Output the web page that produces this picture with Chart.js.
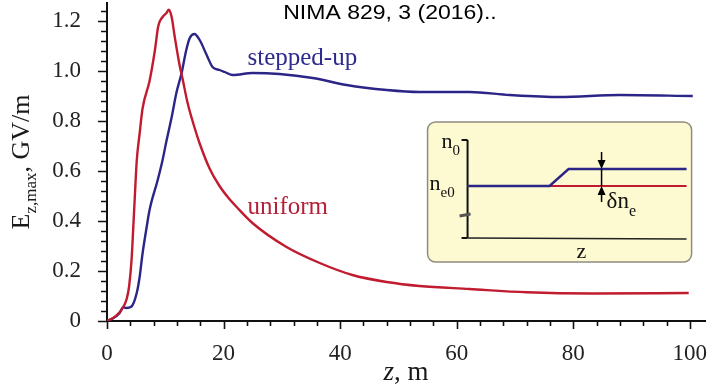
<!DOCTYPE html>
<html>
<head>
<meta charset="utf-8">
<script src="https://cdn.jsdelivr.net/npm/chart.js@4.4.1/dist/chart.umd.min.js"></script>
<style>
  html, body { margin: 0; padding: 0; background: #fff; }
  #wrap { width: 708px; height: 390px; }
</style>
</head>
<body>
<div id="wrap"><canvas id="c" width="708" height="390"></canvas></div>
<script>
// Peak field along the plasma for a uniform and a stepped-up density profile
const zUniform = [0, 1.0, 1.7, 2.7, 3.4, 3.8, 4.2, 4.5, 4.8, 5.1, 5.6, 6.1, 7.3, 8.2, 8.8, 9.5, 10.2, 10.6,
  11.1, 11.6, 12.4, 13.0, 13.8, 15.0, 15.9, 17.6, 19.3, 21.0, 22.2, 25.0, 30.8, 36.5, 42.1, 48.0, 53.6,
  62.2, 72.0, 83.3, 99.8];
const eUniform = [0, 0.012, 0.024, 0.052, 0.09, 0.14, 0.24, 0.37, 0.51, 0.64, 0.75, 0.85, 0.96, 1.08, 1.18,
  1.215, 1.232, 1.245, 1.215, 1.14, 1.03, 0.965, 0.875, 0.775, 0.71, 0.61, 0.54, 0.488, 0.457, 0.391,
  0.296, 0.232, 0.184, 0.156, 0.14, 0.128, 0.115, 0.11, 0.112];

const zStepped = [0, 1.0, 2.1, 2.8, 3.3, 4.2, 5.1, 5.6, 6.1, 6.8, 7.3, 8.7, 9.5, 10.2, 11.1, 11.9, 12.8,
  13.6, 14.2, 15.0, 15.9, 17.1, 18.1, 19.3, 20.2, 21.6, 25.0, 29.6, 35.3, 41.1, 48.0, 53.6, 62.2, 69.1,
  77.7, 88.0, 100.5];
const eStepped = [0, 0.01, 0.03, 0.055, 0.052, 0.058, 0.112, 0.176, 0.27, 0.375, 0.444, 0.564, 0.64, 0.72,
  0.816, 0.912, 0.992, 1.084, 1.132, 1.148, 1.124, 1.064, 1.016, 1.004, 0.996, 0.984, 0.992, 0.988, 0.972,
  0.944, 0.924, 0.916, 0.916, 0.904, 0.896, 0.904, 0.90];

const xTickStep = 20, xMinorStep = 4;
const yTickStep = 0.2, yMinorStep = 0.04;

// Corners of the density-profile sketch, in axis units
const sketchBox = { zLeft: 55.0, zRight: 100.3, eBottom: 0.236, eTop: 0.796 };
// Anchors of the curve names, in axis units
const stepLabelAt = { z: 24.1, e: 1.024 };
const uniLabelAt = { z: 24.1, e: 0.428 };

const BLUE = '#2C2588';
const RED = '#C01B2E';
const SERIF = '"Liberation Serif", "Times New Roman", serif';

function pairs(xs, ys) { return xs.map((x, i) => ({ x: x, y: ys[i] })); }

// Draws base text followed by a lowered subscript; returns the total advance
function drawSub(ctx, x, y, base, sub, size, subSize, drop) {
  ctx.font = size + 'px ' + SERIF;
  ctx.fillText(base, x, y);
  const w = ctx.measureText(base).width;
  ctx.font = subSize + 'px ' + SERIF;
  ctx.fillText(sub, x + w, y + drop);
  return w + ctx.measureText(sub).width;
}

const decor = {
  id: 'decor',
  afterDraw(chart) {
    const ctx = chart.ctx;
    const xs = chart.scales.x, ys = chart.scales.y;
    const area = chart.chartArea;
    ctx.save();

    // tick marks: y outward to the left, x outward below
    ctx.strokeStyle = '#111';
    ctx.lineWidth = 1.6;
    ctx.beginPath();
    for (let k = 0; k * yMinorStep <= ys.max + 1e-9; k++) {
      const v = k * yMinorStep;
      const py = Math.round(ys.getPixelForValue(v)) + 0.5;
      const major = k % 5 === 0;
      ctx.moveTo(area.left, py);
      ctx.lineTo(area.left - (major ? 9 : 6), py);
    }
    for (let k = 0; k * xMinorStep <= 100 + 1e-9; k++) {
      const v = k * xMinorStep;
      const px = Math.round(xs.getPixelForValue(v)) + 0.5;
      const major = k % 5 === 0;
      ctx.moveTo(px, area.bottom);
      ctx.lineTo(px, area.bottom + (major ? 8 : 5));
    }
    ctx.stroke();

    // title
    ctx.fillStyle = '#000';
    ctx.textBaseline = 'alphabetic';
    ctx.textAlign = 'left';
    ctx.save();
    ctx.font = '20px "Liberation Sans", Arial, sans-serif';
    const title = 'NIMA 829, 3 (2016)..';
    const tw = ctx.measureText(title).width * 1.15;
    ctx.translate(390 - tw / 2, 19);
    ctx.scale(1.15, 1);
    ctx.fillText(title, 0, 0);
    ctx.restore();

    // y axis title, rotated
    ctx.save();
    ctx.fillStyle = '#1a1a1a';
    ctx.font = '26px ' + SERIF;
    const wE = ctx.measureText('E').width;
    const wRest = ctx.measureText(', GV/m').width;
    ctx.font = '17px ' + SERIF;
    const wSub = ctx.measureText('z,max').width;
    const total = wE + wSub + wRest;
    ctx.translate(29, (area.top + area.bottom) / 2);
    ctx.rotate(-Math.PI / 2);
    let cx = -total / 2;
    cx += drawSub(ctx, cx, 0, 'E', 'z,max', 26, 17, 7);
    ctx.font = '26px ' + SERIF;
    ctx.fillText(', GV/m', cx, 0);
    ctx.restore();

    // x axis title
    ctx.save();
    ctx.fillStyle = '#1a1a1a';
    ctx.font = 'italic 27px ' + SERIF;
    const wz = ctx.measureText('z').width;
    ctx.font = '27px ' + SERIF;
    const wm = ctx.measureText(', m').width;
    const xc = (area.left + area.right) / 2 - (wz + wm) / 2;
    ctx.font = 'italic 27px ' + SERIF;
    ctx.fillText('z', xc, 380);
    ctx.font = '27px ' + SERIF;
    ctx.fillText(', m', xc + wz, 380);
    ctx.restore();

    // curve names
    ctx.font = '25px ' + SERIF;
    ctx.fillStyle = '#2E2B8E';
    ctx.fillText('stepped-up', xs.getPixelForValue(stepLabelAt.z), ys.getPixelForValue(stepLabelAt.e));
    ctx.fillStyle = '#B52038';
    ctx.fillText('uniform', xs.getPixelForValue(uniLabelAt.z), ys.getPixelForValue(uniLabelAt.e));

    // density-profile sketch
    const L = xs.getPixelForValue(sketchBox.zLeft);
    const R = xs.getPixelForValue(sketchBox.zRight);
    const T = ys.getPixelForValue(sketchBox.eTop);
    const B = ys.getPixelForValue(sketchBox.eBottom);
    ctx.beginPath();
    ctx.roundRect(L, T, R - L, B - T, 8);
    ctx.fillStyle = '#FDF9D0';
    ctx.fill();
    ctx.lineWidth = 1.5;
    ctx.strokeStyle = '#8E8C80';
    ctx.stroke();

    const ax = L + 40, axTop = T + 18, axBot = T + 116, axEnd = L + 259;
    const yBase = T + 64, yStep = T + 47;
    ctx.strokeStyle = '#111';
    ctx.lineWidth = 2;
    ctx.beginPath();
    ctx.moveTo(ax, axTop); ctx.lineTo(ax, axBot);
    ctx.moveTo(ax - 6, axTop); ctx.lineTo(ax, axTop);
    ctx.moveTo(ax - 6, axBot); ctx.lineTo(ax, axBot);
    ctx.stroke();
    ctx.lineWidth = 1.5;
    ctx.strokeStyle = '#222';
    ctx.beginPath();
    ctx.moveTo(ax, axBot); ctx.lineTo(axEnd, axBot + 1);
    ctx.stroke();
    // axis break
    ctx.strokeStyle = '#555';
    ctx.lineWidth = 3;
    ctx.beginPath();
    ctx.moveTo(ax - 8, T + 94); ctx.lineTo(ax + 3, T + 92);
    ctx.stroke();

    ctx.lineWidth = 2;
    ctx.strokeStyle = RED;
    ctx.beginPath();
    ctx.moveTo(ax, yBase); ctx.lineTo(axEnd, yBase);
    ctx.stroke();
    ctx.lineWidth = 2.4;
    ctx.strokeStyle = BLUE;
    ctx.beginPath();
    ctx.moveTo(ax, yBase); ctx.lineTo(L + 122, yBase); ctx.lineTo(L + 141, yStep); ctx.lineTo(axEnd, yStep);
    ctx.stroke();

    // arrows marking the density step
    const arx = L + 174;
    ctx.strokeStyle = '#000';
    ctx.fillStyle = '#000';
    ctx.lineWidth = 1.5;
    ctx.beginPath();
    ctx.moveTo(arx, T + 30); ctx.lineTo(arx, T + 40);
    ctx.moveTo(arx, yStep); ctx.lineTo(arx, yBase);
    ctx.moveTo(arx, yBase + 9); ctx.lineTo(arx, T + 80);
    ctx.stroke();
    ctx.beginPath();
    ctx.moveTo(arx - 4, T + 38); ctx.lineTo(arx + 4, T + 38); ctx.lineTo(arx, yStep); ctx.closePath();
    ctx.moveTo(arx - 4, yBase + 9); ctx.lineTo(arx + 4, yBase + 9); ctx.lineTo(arx, yBase); ctx.closePath();
    ctx.fill();

    ctx.fillStyle = '#111';
    drawSub(ctx, L + 14, T + 26, 'n', '0', 22, 15, 7);
    drawSub(ctx, L + 2, T + 68, 'n', 'e0', 22, 15, 7);
    drawSub(ctx, L + 179, T + 86, 'δn', 'e', 23, 16, 8);
    ctx.font = '22px ' + SERIF;
    ctx.fillText('z', L + 149, T + 136);

    ctx.restore();
  }
};

const tickFont = { family: SERIF, size: 23 };

new Chart(document.getElementById('c'), {
  type: 'line',
  data: {
    datasets: [
      { label: 'uniform', data: pairs(zUniform, eUniform), borderColor: RED, borderWidth: 2.4,
        pointRadius: 0, cubicInterpolationMode: 'monotone', fill: false },
      { label: 'stepped-up', data: pairs(zStepped, eStepped), borderColor: BLUE, borderWidth: 2.4,
        pointRadius: 0, cubicInterpolationMode: 'monotone', fill: false }
    ]
  },
  options: {
    responsive: false,
    animation: false,
    devicePixelRatio: 1,
    layout: { padding: { top: 3, right: 3, left: 0, bottom: 0 } },
    plugins: { legend: { display: false }, tooltip: { enabled: false }, title: { display: false } },
    scales: {
      x: {
        type: 'linear', min: 0, max: 102.6,
        afterFit(s) { s.height = 69; s.paddingLeft = 0; s.paddingRight = 0; },
        grid: { display: false },
        border: { display: true, color: '#111', width: 2 },
        ticks: { stepSize: xTickStep, includeBounds: false, padding: 11, maxRotation: 0,
                 autoSkip: false, color: '#222', font: tickFont,
                 callback: v => String(Math.round(v)) }
      },
      y: {
        type: 'linear', min: 0, max: 1.272,
        afterFit(s) { s.width = 107; s.paddingTop = 0; s.paddingBottom = 0; },
        grid: { display: false },
        border: { display: true, color: '#111', width: 2 },
        ticks: { stepSize: yTickStep, includeBounds: false, padding: 18, autoSkip: false,
                 color: '#222', font: tickFont,
                 callback: v => (Math.abs(v) < 1e-9 ? '0' : v.toFixed(1)) }
      }
    }
  },
  plugins: [decor]
});
</script>
</body>
</html>
